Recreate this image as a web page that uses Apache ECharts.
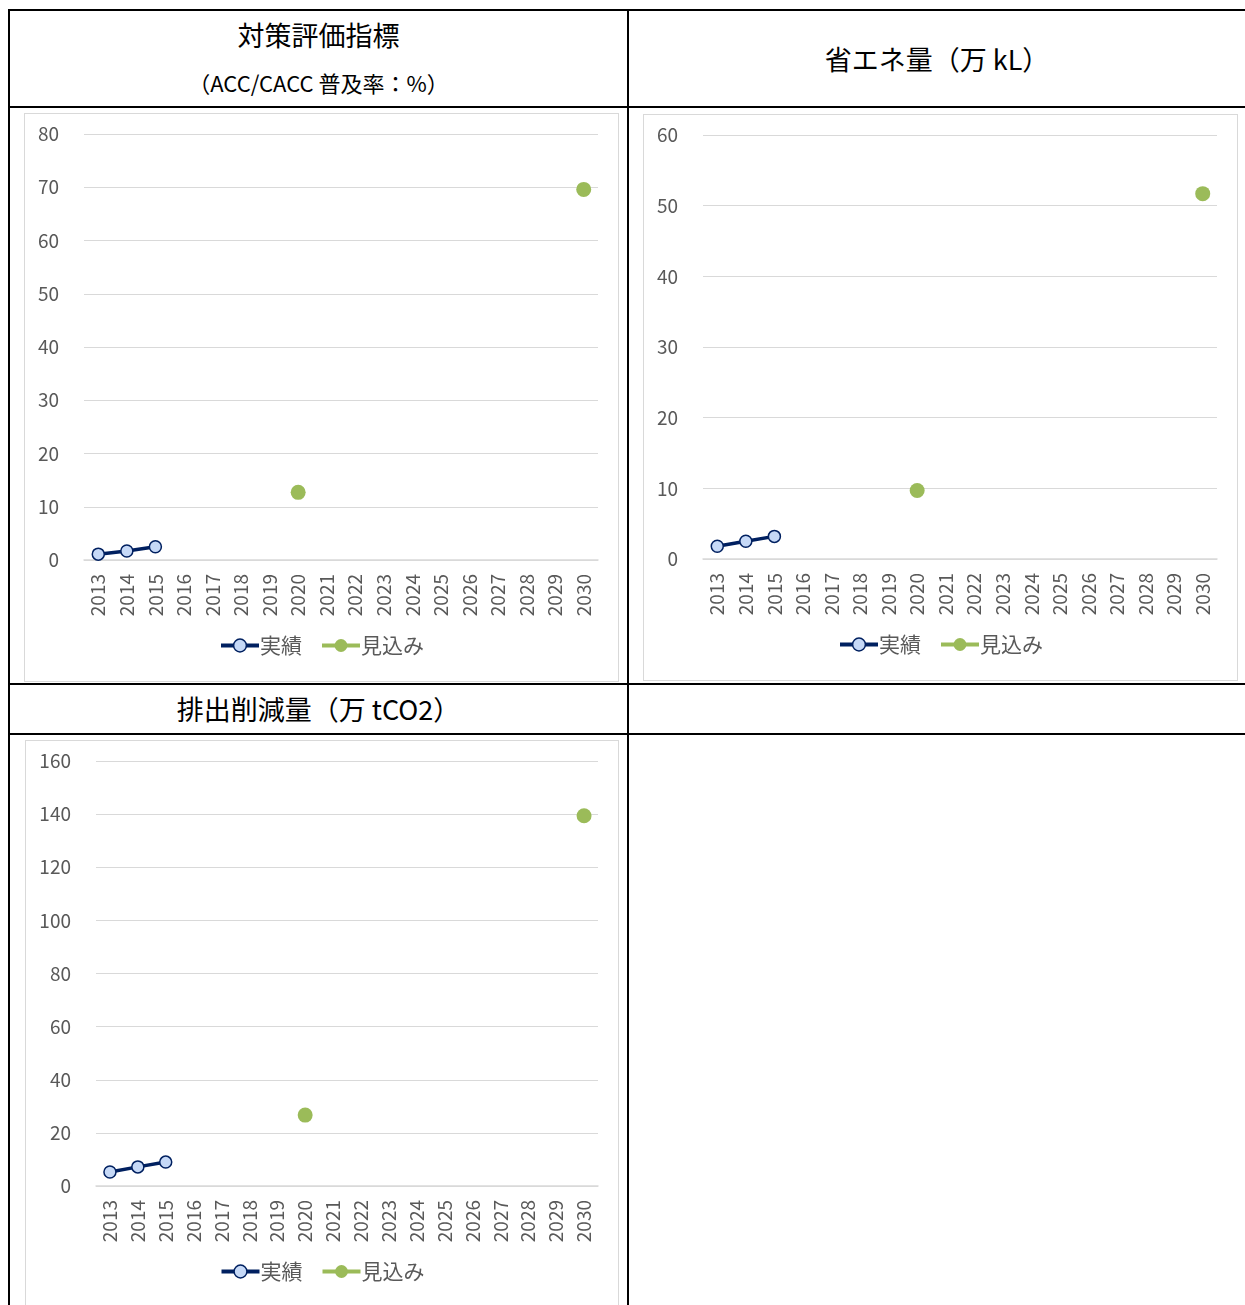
<!DOCTYPE html>
<html><head><meta charset="utf-8">
<script src="https://cdn.jsdelivr.net/npm/echarts@6/dist/echarts.min.js"></script>
<style>
body{margin:0;background:#fff;width:1245px;height:1305px;overflow:hidden;position:relative;font-family:"Noto Sans CJK JP","Noto Sans",sans-serif;}
.ln{position:absolute;background:#000;}
.hd{position:absolute;text-align:center;color:#000;white-space:nowrap;}
.box{position:absolute;border:1px solid #d9d9d9;box-sizing:border-box;background:#fff;}
</style></head><body>
<div class="ln" style="left:8px;top:9px;width:1237px;height:2px"></div>
<div class="ln" style="left:8px;top:106px;width:1237px;height:2px"></div>
<div class="ln" style="left:8px;top:683px;width:1237px;height:2px"></div>
<div class="ln" style="left:8px;top:733px;width:1237px;height:2px"></div>
<div class="ln" style="left:8px;top:9px;width:2px;height:1296px"></div>
<div class="ln" style="left:627px;top:9px;width:2px;height:1296px"></div>

<div class="hd" style="left:10px;width:617px;top:16px;font-size:27px;line-height:38px">対策評価指標</div>
<div class="hd" style="left:10px;width:617px;top:66px;font-size:22px;line-height:32px">（ACC/CACC 普及率：%）</div>
<div class="hd" style="left:629px;width:616px;top:40px;font-size:27px;line-height:38px">省エネ量（万 kL）</div>
<div class="hd" style="left:10px;width:617px;top:690px;font-size:27px;line-height:38px">排出削減量（万 tCO2）</div>

<div id="c1" class="box" style="left:24px;top:113px;width:595px;height:569px"></div>
<div id="c2" class="box" style="left:643px;top:114px;width:595px;height:567px"></div>
<div id="c3" class="box" style="left:25px;top:740px;width:594px;height:568px"></div>

<script>
const years = ['2013','2014','2015','2016','2017','2018','2019','2020','2021','2022','2023','2024','2025','2026','2027','2028','2029','2030'];
// 実績 (actual)
const actual1 = [1.1, 1.7, 2.5, null, null, null, null, null, null, null, null, null, null, null, null, null, null, null];
const actual2 = [1.8, 2.5, 3.2, null, null, null, null, null, null, null, null, null, null, null, null, null, null, null];
const actual3 = [5.3, 7.2, 9.0, null, null, null, null, null, null, null, null, null, null, null, null, null, null, null];
// 見込み (projection)
const proj1 = [null, null, null, null, null, null, null, 12.7, null, null, null, null, null, null, null, null, null, 69.6];
const proj2 = [null, null, null, null, null, null, null, 9.7, null, null, null, null, null, null, null, null, null, 51.7];
const proj3 = [null, null, null, null, null, null, null, 26.7, null, null, null, null, null, null, null, null, null, 139.4];
const seriesNames = ['実績', '見込み'];

const FONT = '"Noto Sans CJK JP","Noto Sans",sans-serif';
function makeOpt(actual, proj, max, interval, gridLeft){
  return {
    animation:false,
    grid:{left:gridLeft, right:20, top:20, bottom:121, containLabel:false},
    legend:{
      bottom:20, left:'center', itemWidth:38, itemHeight:16, itemGap:18,
      textStyle:{fontSize:21, color:'#595959', fontFamily:FONT, padding:[0,0,0,-4]},
      data:[
        {name:seriesNames[0], lineStyle:{width:4, color:'#002060'}, itemStyle:{color:'#c6d9f7', borderColor:'#002060', borderWidth:1.5}},
        {name:seriesNames[1], lineStyle:{width:4, color:'#9bbb59'}, itemStyle:{color:'#9bbb59'}}
      ]
    },
    xAxis:{
      type:'category', data:years, boundaryGap:true,
      axisTick:{show:false},
      axisLine:{lineStyle:{color:'#d9d9d9', width:1.5}},
      axisLabel:{rotate:90, fontSize:19, color:'#595959', fontFamily:FONT, margin:14, interval:0}
    },
    yAxis:{
      type:'value', min:0, max:max, interval:interval,
      axisLine:{show:false}, axisTick:{show:false},
      splitLine:{lineStyle:{color:'#d9d9d9', width:1}},
      axisLabel:{fontSize:19, color:'#595959', fontFamily:FONT, margin:25}
    },
    series:[
      {name:seriesNames[0], type:'line', data:actual, symbol:'circle', symbolSize:12,
       lineStyle:{color:'#002060', width:3.5},
       itemStyle:{color:'#c6d9f7', borderColor:'#002060', borderWidth:1.5},
       connectNulls:false},
      {name:seriesNames[1], type:'line', data:proj, symbol:'circle', symbolSize:15,
       lineStyle:{color:'#9bbb59', width:3.5},
       itemStyle:{color:'#9bbb59'},
       connectNulls:false}
    ]
  };
}
echarts.init(document.getElementById('c1')).setOption(makeOpt(actual1, proj1, 80, 10, 59));
echarts.init(document.getElementById('c2')).setOption(makeOpt(actual2, proj2, 60, 10, 59));
echarts.init(document.getElementById('c3')).setOption(makeOpt(actual3, proj3, 160, 20, 70));
</script>
</body></html>
